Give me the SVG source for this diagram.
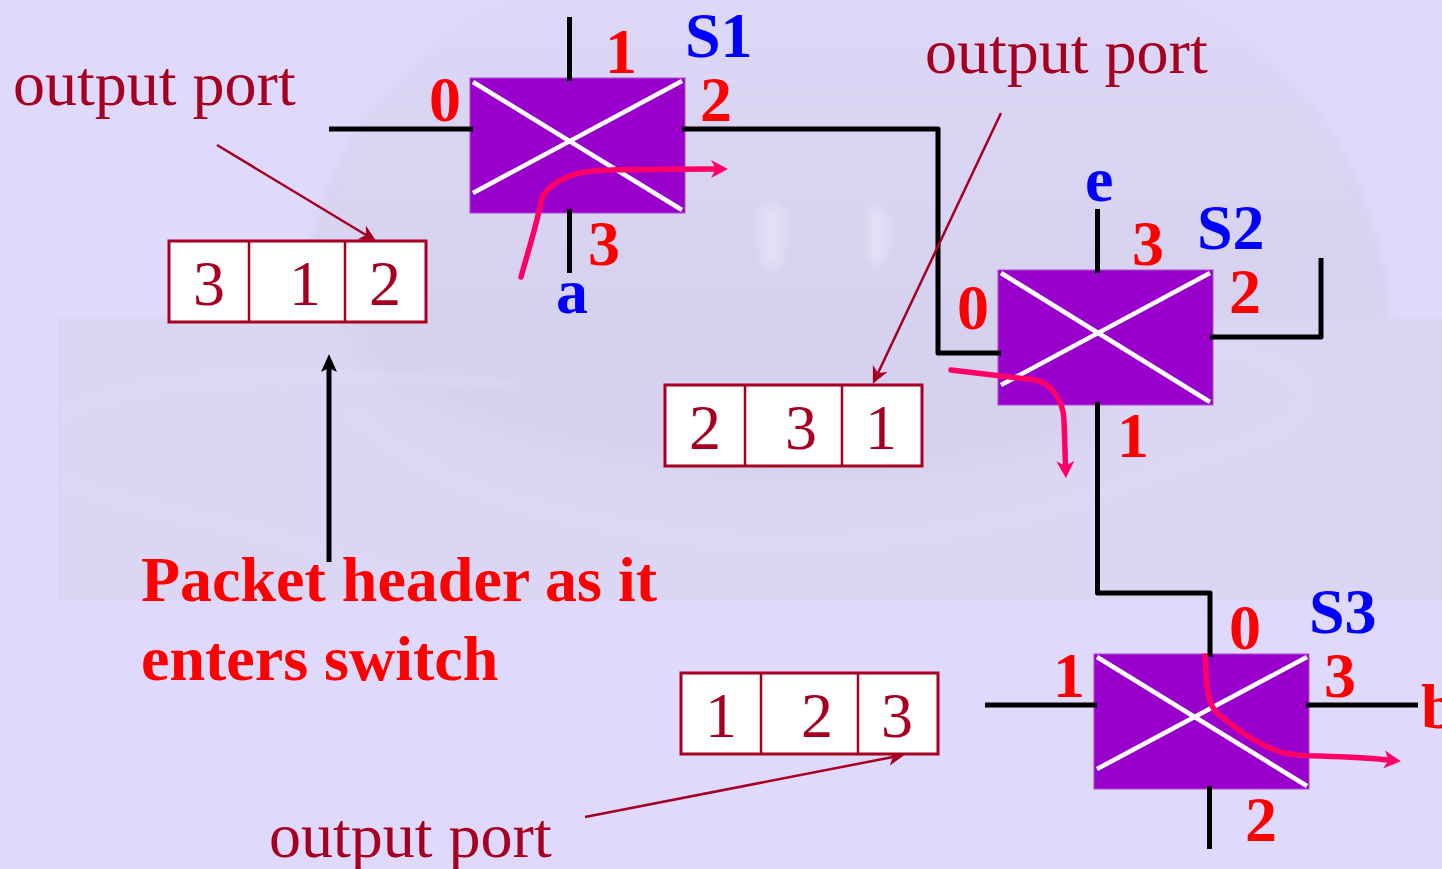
<svg xmlns="http://www.w3.org/2000/svg" width="1442" height="869" viewBox="0 0 1442 869">
<style>
text{font-family:"Liberation Serif","Times New Roman",serif;font-size:64px}
.red{fill:#f00;font-weight:bold}
.blue{fill:#00f;font-weight:bold}
.mar{fill:#A50021}
.sw{fill:#9900CC;stroke:#A94DD0;stroke-width:1}
.x{stroke:#fff;stroke-width:4.5;fill:none}
.k{stroke:#000;stroke-width:5;fill:none;stroke-linejoin:round}
.p{stroke:#FF0066;stroke-width:5.500;fill:none;stroke-linecap:round;stroke-linejoin:round}
.d{stroke:#A50021;stroke-width:2.500;fill:none}
.b{fill:#fff;stroke:#A50021;stroke-width:3}
.w{fill:none;stroke:#E1DDF8;stroke-width:4}
</style>
<defs>
<marker id="ap" markerUnits="userSpaceOnUse" markerWidth="22" markerHeight="20" refX="5" refY="10" orient="auto"><path d="M0,1 L17,10 L0,19 L5,10Z" fill="#FF0066"/></marker>
<marker id="ad" markerUnits="userSpaceOnUse" markerWidth="22" markerHeight="20" refX="5" refY="10" orient="auto"><path d="M0,2 L17,10 L0,18 L5,10Z" fill="#A50021"/></marker>
<marker id="ak" markerUnits="userSpaceOnUse" markerWidth="22" markerHeight="20" refX="4" refY="10" orient="auto"><path d="M0,2 L18,10 L0,18 L4,10Z" fill="#000"/></marker>
<linearGradient id="dome" x1="0" y1="0" x2="0" y2="1"><stop offset="0" stop-color="#DDD8F8"/><stop offset="0.45" stop-color="#D9D4F2"/><stop offset="1" stop-color="#D7D2EF"/></linearGradient>
<filter id="bl" x="-5%" y="-5%" width="110%" height="110%"><feGaussianBlur stdDeviation="4"/></filter>
<filter id="bl2" x="-10%" y="-10%" width="120%" height="120%"><feGaussianBlur stdDeviation="12"/></filter>
</defs>
<rect width="1442" height="869" fill="#DFD9FB"/>
<g id="watermark">
<rect x="58" y="318" width="1384" height="282" fill="#DBD6F4"/>
<path d="M303,318 C305,230 330,130 440,40 C470,15 500,0 520,0 L1180,0 C1290,50 1380,160 1390,318Z" fill="url(#dome)" filter="url(#bl)"/>
<path d="M350,360 C500,480 900,520 1100,430 L1100,290 L350,290Z" fill="#D6D1EE" filter="url(#bl2)"/>
<g filter="url(#bl)">
<rect x="762" y="205" width="20" height="62" rx="8" fill="#E4E0F7"/>
<rect x="868" y="208" width="18" height="56" rx="8" fill="#E4E0F7"/>
<path class="w" d="M60,420 C90,385 250,365 520,385"/>
<path class="w" d="M1160,470 C1260,440 1310,430 1302,385 C1290,360 1215,345 1180,340"/>
<path class="w" d="M350,410 C420,480 520,510 640,530 C800,560 1000,540 1160,470"/>
<path class="w" d="M60,480 C130,510 240,520 400,575"/>
</g>
</g>
<g id="S1">
<rect class="sw" x="470" y="78" width="215" height="135"/>
<path class="x" d="M473,82L682,210M473,193L682,81"/>
<text class="red" x="429" y="121">0</text>
<text class="red" x="605" y="73">1</text>
<text class="red" x="700" y="121">2</text>
<text class="red" x="588" y="265">3</text>
<text class="blue" x="685" y="57">S1</text>
<text class="blue" x="556" y="313">a</text>
</g>
<g id="S2">
<rect class="sw" x="998" y="270" width="215" height="135"/>
<path class="x" d="M1001,273L1210,402M1001,385L1210,273"/>
<text class="red" x="957" y="329">0</text>
<text class="red" x="1117" y="457">1</text>
<text class="red" x="1229" y="313">2</text>
<text class="red" x="1132" y="265">3</text>
<text class="blue" x="1197" y="249">S2</text>
<text class="blue" x="1085" y="201">e</text>
</g>
<g id="S3">
<rect class="sw" x="1094" y="654" width="215" height="135"/>
<path class="x" d="M1097,657L1307,786M1097,769L1307,657"/>
<text class="red" x="1229" y="649">0</text>
<text class="red" x="1053" y="697">1</text>
<text class="red" x="1245" y="841">2</text>
<text class="red" x="1324" y="697">3</text>
<text class="blue" x="1309" y="633">S3</text>
<text class="red" x="1421" y="728">b</text>
</g>
<g id="connectors">
<path class="k" d="M329,129H473"/>
<path class="k" d="M569.500,17V81"/>
<path class="k" d="M569.500,209V273"/>
<path class="k" d="M682,129H938V353H1001"/>
<path class="k" d="M1097.500,209V273"/>
<path class="k" d="M1097.500,402V593H1210V657"/>
<path class="k" d="M1210,337H1321V258"/>
<path class="k" d="M985,705H1097"/>
<path class="k" d="M1306,705H1418"/>
<path class="k" d="M1209.500,786V849"/>
<path class="k" d="M329,562V368" marker-end="url(#ak)"/>
<path class="d" d="M217,145L366,235" marker-end="url(#ad)"/>
<path class="d" d="M1001,113L878,373" marker-end="url(#ad)"/>
<path class="d" d="M585,817L893,757" marker-end="url(#ad)"/>
</g>
<g id="routes">
<path class="p" d="M521,277C530,245 538,220 542,197C556,175 585,170 610,170C650,169 690,169 716,169" marker-end="url(#ap)"/>
<path class="p" d="M951,370L1035,380C1050,383 1063,398 1064,420L1065.500,466" marker-end="url(#ap)"/>
<path class="p" d="M1205,656C1207,680 1205,700 1217,713C1235,728 1255,742 1270,748C1285,755 1300,756 1320,756C1350,757 1370,758 1389,760" marker-end="url(#ap)"/>
</g>
<g id="header1">
<rect class="b" x="169" y="241" width="257" height="81"/>
<path class="d" d="M249,241V322M345,241V322"/>
<text class="mar" x="193" y="305">3</text>
<text class="mar" x="289" y="305">1</text>
<text class="mar" x="369" y="305">2</text>
</g>
<g id="header2">
<rect class="b" x="665" y="385" width="257" height="81"/>
<path class="d" d="M745,385V466M842,385V466"/>
<text class="mar" x="689" y="449">2</text>
<text class="mar" x="785" y="449">3</text>
<text class="mar" x="865" y="449">1</text>
</g>
<g id="header3">
<rect class="b" x="681" y="673" width="257" height="81"/>
<path class="d" d="M761,673V754M858,673V754"/>
<text class="mar" x="705" y="737">1</text>
<text class="mar" x="801" y="737">2</text>
<text class="mar" x="881" y="737">3</text>
</g>
<g id="labels">
<text class="mar" x="13" y="105">output port</text>
<text class="mar" x="925" y="73">output port</text>
<text class="mar" x="269" y="857">output port</text>
<text class="red" x="141" y="601">Packet header as it</text>
<text class="red" x="141" y="680">enters switch</text>
</g>
</svg>
